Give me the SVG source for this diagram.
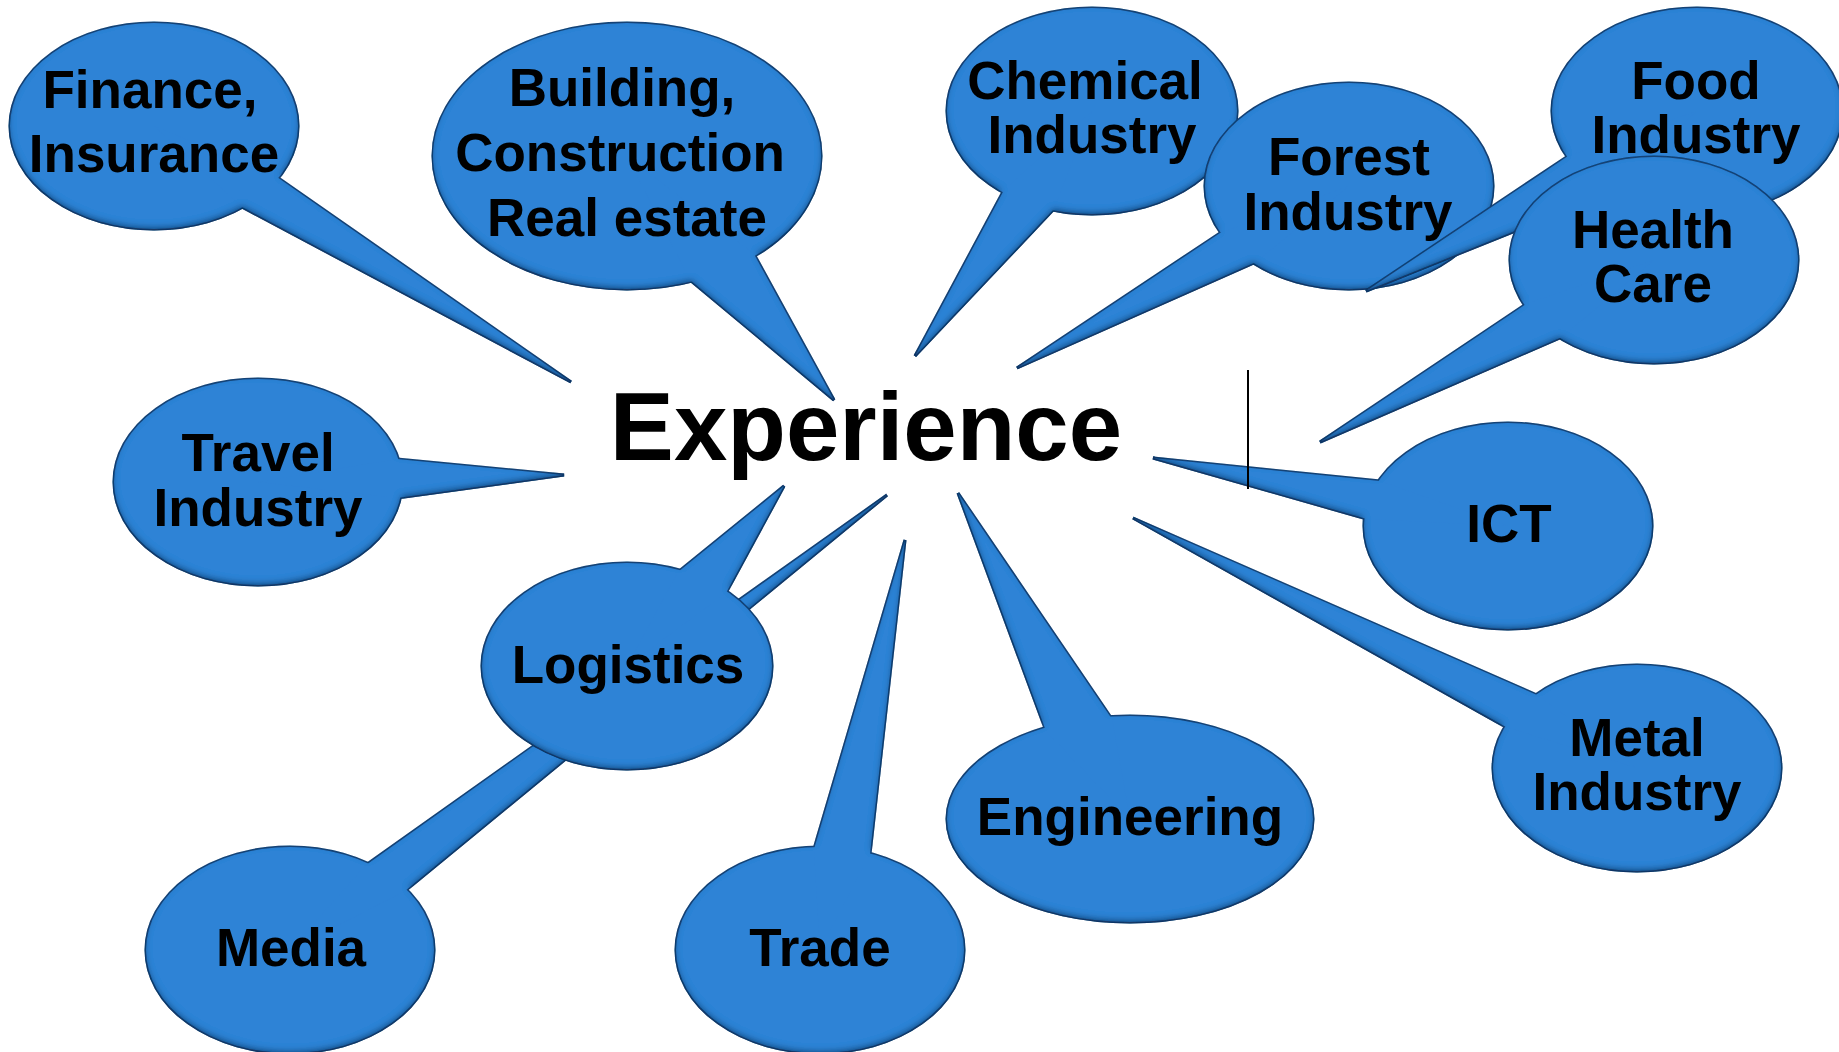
<svg xmlns="http://www.w3.org/2000/svg" xmlns:xlink="http://www.w3.org/1999/xlink" width="1839" height="1052" viewBox="0 0 1839 1052">
<style>
.bubble{filter:url(#bevel)}
.edge{fill:none;stroke:#1a4478;stroke-width:3}
.fill{fill:#2f83d6;stroke:none}
.lbl{font-family:"Liberation Sans",Arial,sans-serif;font-weight:bold;font-size:53px;fill:#000;text-anchor:middle}
.title{font-family:"Liberation Sans",Arial,sans-serif;font-weight:bold;font-size:96px;fill:#000;text-anchor:middle}
</style>
<defs>
<filter id="bevel" x="-10%" y="-10%" width="120%" height="120%">
<feOffset in="SourceAlpha" dx="0" dy="-3" result="off"/>
<feGaussianBlur in="off" stdDeviation="3" result="blur"/>
<feComposite in="SourceAlpha" in2="blur" operator="out" result="inv"/>
<feFlood flood-color="#0b2f5c" flood-opacity="0.9"/>
<feComposite in2="inv" operator="in" result="sh"/>
<feMerge><feMergeNode in="SourceGraphic"/><feMergeNode in="sh"/></feMerge>
</filter>
<g id="s-finance"><ellipse cx="154" cy="126" rx="144" ry="103"/><polygon points="571,382 277,177 154,126 242,207"/></g>
<g id="s-building"><ellipse cx="627" cy="156" rx="194" ry="133"/><polygon points="834,400 754,254 627,156 690,280"/></g>
<g id="s-travel"><ellipse cx="258" cy="482" rx="144" ry="103"/><polygon points="564,475 397,459 258,482 397,498"/></g>
<g id="s-media"><ellipse cx="290" cy="950" rx="144" ry="103"/><polygon points="887,495 366,865 290,950 405,891"/></g>
<g id="s-logistics"><ellipse cx="627" cy="666" rx="145" ry="103"/><polygon points="784,486 678,572 627,666 726,593"/></g>
<g id="s-trade"><ellipse cx="820" cy="950" rx="144" ry="103"/><polygon points="905,540 814,849 820,950 870,854"/></g>
<g id="s-engineering"><ellipse cx="1130" cy="819" rx="183" ry="103"/><polygon points="958,493 1046,731 1130,819 1112,719"/></g>
<g id="s-metal"><ellipse cx="1637" cy="768" rx="144" ry="103"/><polygon points="1133,518 1537,695 1637,768 1506,727"/></g>
<g id="s-ict"><ellipse cx="1508" cy="526" rx="144" ry="103"/><polygon points="1153,458 1380,481 1508,526 1367,519"/></g>
<g id="s-chemical"><ellipse cx="1092" cy="111" rx="145" ry="103"/><polygon points="915,356 1004,190 1092,111 1054,209"/></g>
<g id="s-forest"><ellipse cx="1349" cy="186" rx="144" ry="103"/><polygon points="1017,368 1220,233 1349,186 1256,262"/></g>
<g id="s-food"><ellipse cx="1697" cy="111" rx="145" ry="103"/><polygon points="1366,291 1568,156 1697,111 1600,197"/></g>
<g id="s-health"><ellipse cx="1654" cy="260" rx="144" ry="103"/><polygon points="1320,442 1526,304 1654,260 1562,337"/></g>
</defs>
<rect width="1839" height="1052" fill="#fff"/>
<g id="connectors"></g>
<g id="finance"><g class="bubble"><use xlink:href="#s-finance" class="edge"/><use xlink:href="#s-finance" class="fill"/></g>
<text class="lbl" x="150" y="108">Finance,</text><text class="lbl" x="154" y="172">Insurance</text></g>
<g id="building"><g class="bubble"><use xlink:href="#s-building" class="edge"/><use xlink:href="#s-building" class="fill"/></g>
<text class="lbl" x="622" y="106">Building,</text><text class="lbl" x="620" y="171">Construction</text><text class="lbl" x="627" y="236">Real estate</text></g>
<g id="travel"><g class="bubble"><use xlink:href="#s-travel" class="edge"/><use xlink:href="#s-travel" class="fill"/></g>
<text class="lbl" x="258" y="471">Travel</text><text class="lbl" x="258" y="526">Industry</text></g>
<g id="media"><g class="bubble"><use xlink:href="#s-media" class="edge"/><use xlink:href="#s-media" class="fill"/></g>
<text class="lbl" x="291" y="966">Media</text></g>
<g id="logistics"><g class="bubble"><use xlink:href="#s-logistics" class="edge"/><use xlink:href="#s-logistics" class="fill"/></g>
<text class="lbl" x="628" y="683">Logistics</text></g>
<g id="trade"><g class="bubble"><use xlink:href="#s-trade" class="edge"/><use xlink:href="#s-trade" class="fill"/></g>
<text class="lbl" x="820" y="966">Trade</text></g>
<g id="engineering"><g class="bubble"><use xlink:href="#s-engineering" class="edge"/><use xlink:href="#s-engineering" class="fill"/></g>
<text class="lbl" x="1130" y="835">Engineering</text></g>
<g id="metal"><g class="bubble"><use xlink:href="#s-metal" class="edge"/><use xlink:href="#s-metal" class="fill"/></g>
<text class="lbl" x="1637" y="756">Metal</text><text class="lbl" x="1637" y="810">Industry</text></g>
<g id="ict"><g class="bubble"><use xlink:href="#s-ict" class="edge"/><use xlink:href="#s-ict" class="fill"/></g>
<text class="lbl" x="1509" y="542">ICT</text></g>
<g id="chemical"><g class="bubble"><use xlink:href="#s-chemical" class="edge"/><use xlink:href="#s-chemical" class="fill"/></g>
<text class="lbl" x="1085" y="99">Chemical</text><text class="lbl" x="1092" y="153">Industry</text></g>
<g id="forest"><g class="bubble"><use xlink:href="#s-forest" class="edge"/><use xlink:href="#s-forest" class="fill"/></g>
<text class="lbl" x="1349" y="175">Forest</text><text class="lbl" x="1348" y="230">Industry</text></g>
<g id="food"><g class="bubble"><use xlink:href="#s-food" class="edge"/><use xlink:href="#s-food" class="fill"/></g>
<text class="lbl" x="1696" y="99">Food</text><text class="lbl" x="1696" y="153">Industry</text></g>
<g id="health"><g class="bubble"><use xlink:href="#s-health" class="edge"/><use xlink:href="#s-health" class="fill"/></g>
<text class="lbl" x="1653" y="248">Health</text><text class="lbl" x="1653" y="302">Care</text></g>
<g id="experience"><text class="title" x="866" y="460">Experience</text></g>
<line x1="1248" y1="370" x2="1248" y2="489" stroke="#000" stroke-width="2"/>
</svg>
